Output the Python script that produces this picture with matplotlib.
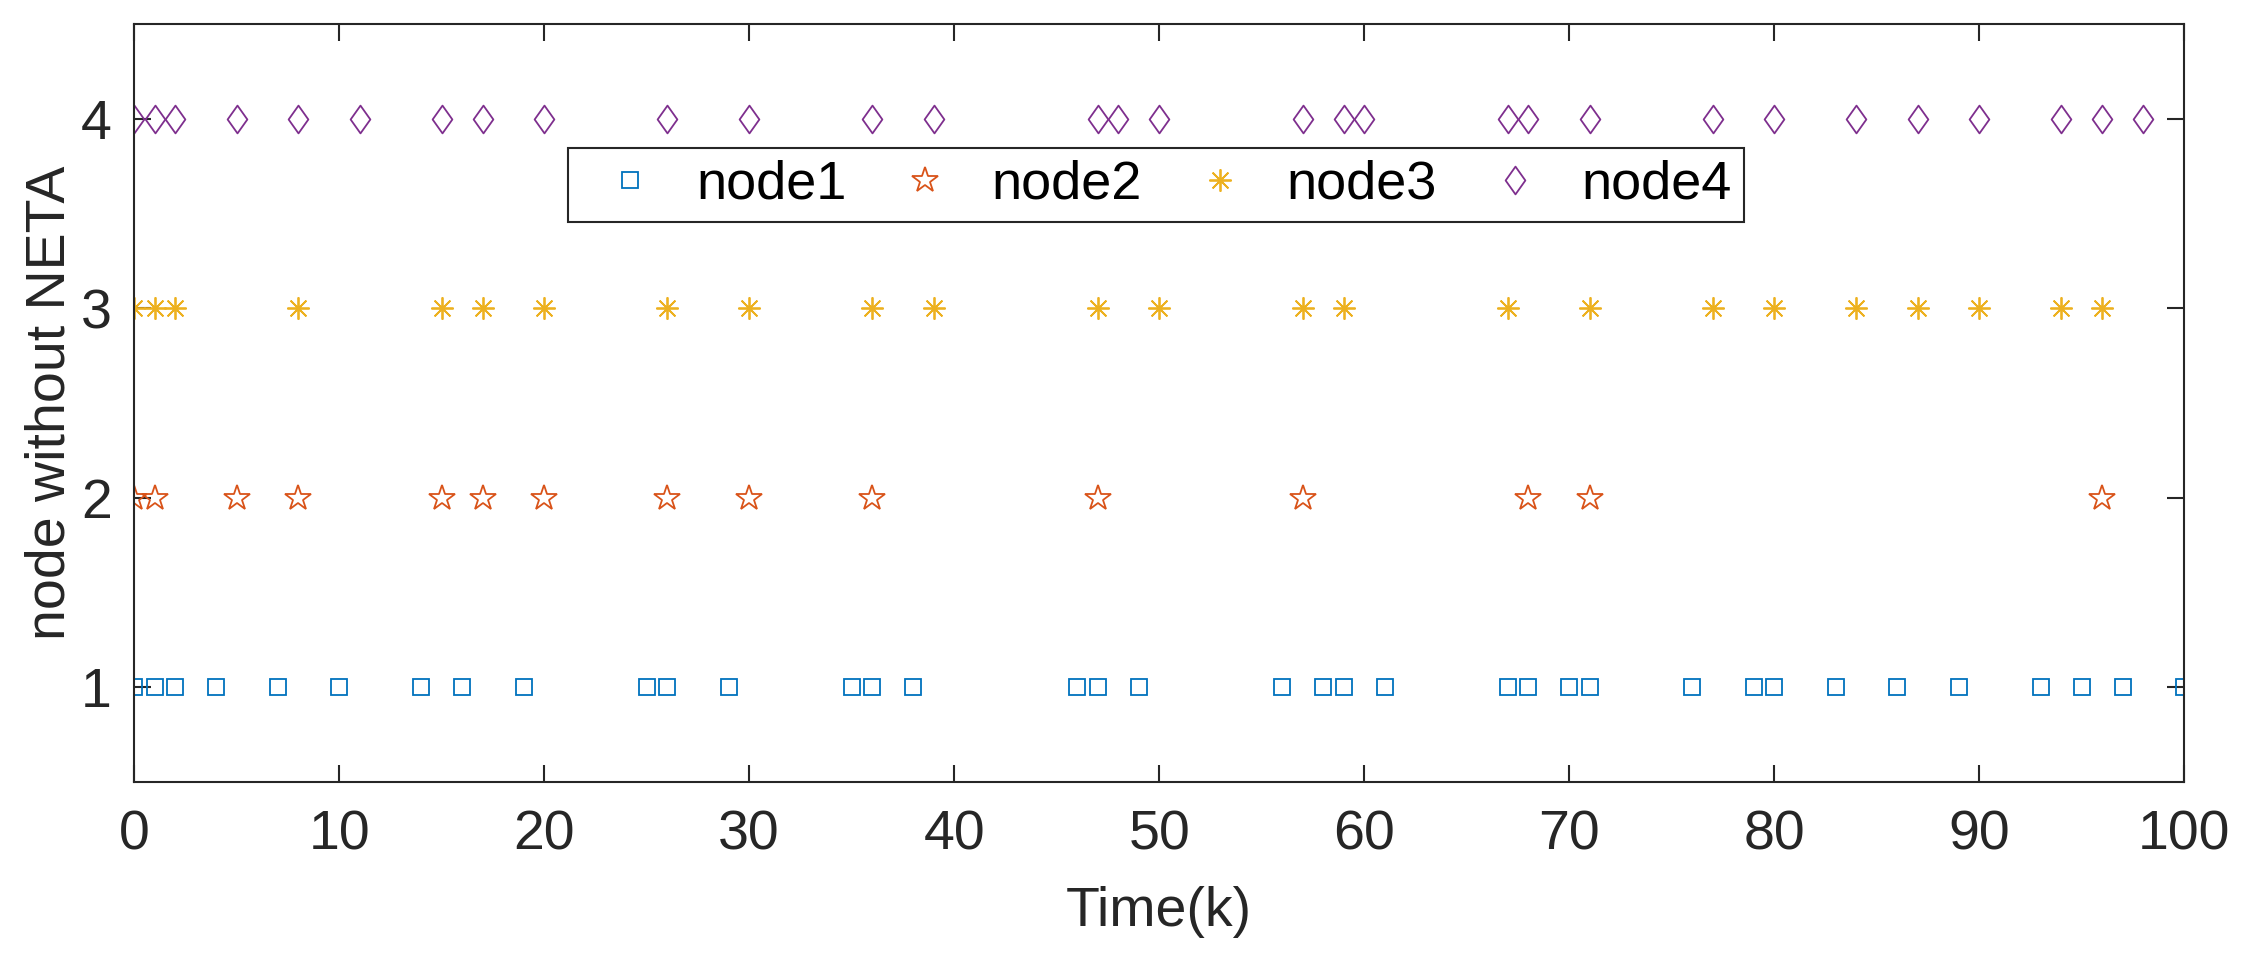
import matplotlib
matplotlib.use("Agg")
import matplotlib.pyplot as plt
from matplotlib.path import Path

node1_t = [0, 1, 2, 4, 7, 10, 14, 16, 19, 25, 26, 29, 35, 36, 38, 46, 47, 49,
           56, 58, 59, 61, 67, 68, 70, 71, 76, 79, 80, 83, 86, 89, 93, 95, 97, 100]
node2_t = [0, 1, 5, 8, 15, 17, 20, 26, 30, 36, 47, 57, 68, 71, 96]
node3_t = [0, 1, 2, 8, 15, 17, 20, 26, 30, 36, 39, 47, 50, 57, 59, 67, 71, 77,
           80, 84, 87, 90, 94, 96]
node4_t = [0, 1, 2, 5, 8, 11, 15, 17, 20, 26, 30, 36, 39, 47, 48, 50, 57, 59,
           60, 67, 68, 71, 77, 80, 84, 87, 90, 94, 96, 98]
node_levels = [1, 2, 3, 4]
labels = ["node1", "node2", "node3", "node4"]
xticks = [0, 10, 20, 30, 40, 50, 60, 70, 80, 90, 100]
yticks = [1, 2, 3, 4]

plt.rcParams['font.family'] = ['Liberation Sans', 'DejaVu Sans']

fig = plt.figure(figsize=(22.54, 9.68), dpi=100)
ax = fig.add_axes([0.0595, 0.1925, 0.9095, 0.7823])

diamond = Path([(0, 1), (0.71, 0), (0, -1), (-0.71, 0), (0, 1)],
               [Path.MOVETO, Path.LINETO, Path.LINETO, Path.LINETO, Path.CLOSEPOLY])

colors = ["#0072BD", "#D95319", "#EDB120", "#7E2F8E"]
markers = ["s", "*", (8, 2, 0), diamond]
sizes = [12, 19, 16, 20]
series = [node1_t, node2_t, node3_t, node4_t]
for i, (t, lvl, c, m, s, lab) in enumerate(zip(series, node_levels, colors, markers, sizes, labels)):
    if i == 2:
        ax.plot(t, [lvl] * len(t), linestyle='none', marker=m, markersize=s,
                color=c, markeredgewidth=1.3, label=lab)
    else:
        ax.plot(t, [lvl] * len(t), linestyle='none', marker=m, markersize=s,
                markerfacecolor='none', markeredgecolor=c, markeredgewidth=1.3,
                label=lab)

ax.set_xlim(0, 100)
ax.set_ylim(0.5, 4.5)
ax.set_xticks(xticks)
ax.set_yticks(yticks)
ax.tick_params(axis='both', labelsize=40, direction='in', length=12, width=1.5,
               top=True, right=True, colors='#262626')
ax.tick_params(axis='x', pad=20)
ax.tick_params(axis='y', pad=16)
for sp in ax.spines.values():
    sp.set_linewidth(1.5)
    sp.set_color('#262626')
ax.set_xlabel("Time(k)", fontsize=40, color='#262626', labelpad=18)
ax.set_ylabel("node without NETA", fontsize=40, color='#262626', labelpad=3)

leg = ax.legend(ncol=4, loc='upper left', bbox_to_anchor=(0.2117, 0.8368),
                borderaxespad=0, fontsize=39, frameon=True, fancybox=False,
                framealpha=1, edgecolor='#262626', handlelength=1.85,
                handletextpad=0.3, columnspacing=0.52, borderpad=0.22,
                markerscale=1.0)
leg.get_frame().set_linewidth(1.5)

fig.savefig("out.png", dpi=100)
